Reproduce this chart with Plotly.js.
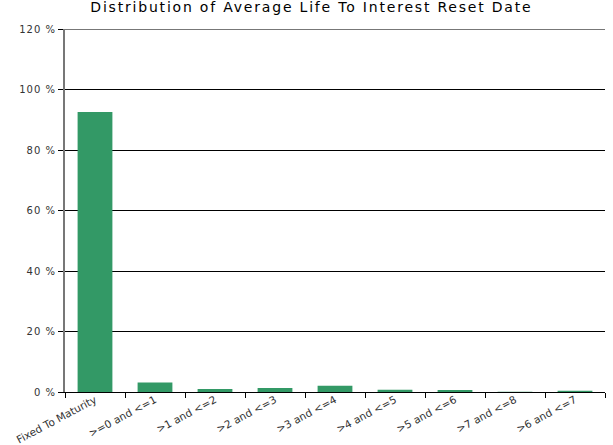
<!DOCTYPE html>
<html>
<head>
<meta charset="utf-8">
<script src="https://cdn.plot.ly/plotly-3.0.1.min.js"></script>
<style>
html,body{margin:0;padding:0;background:#fff;}
#chart{width:613px;height:445px;}
#chart .gtitle{letter-spacing:1.8px;}
#chart .ytick text{letter-spacing:1px;}
</style>
</head>
<body>
<div id="chart"></div>
<script>
const categories = ["Fixed To Maturity", ">=0 and <=1", ">1 and <=2", ">2 and <=3", ">3 and <=4", ">4 and <=5", ">5 and <=6", ">7 and <=8", ">6 and <=7"];
const values = [92.6, 3.1, 1.0, 1.3, 2.1, 0.75, 0.7, 0.1, 0.4];
const yTicks = [0, 20, 40, 60, 80, 100, 120];
const yTickLabels = yTicks.map(v => v + " %");
const titleText = "Distribution of Average Life To Interest Reset Date";

const trace = {
  type: "bar",
  x: categories,
  y: values,
  marker: {color: "#339966"},
  hoverinfo: "x+y"
};

const layout = {
  width: 613,
  height: 445,
  margin: {l: 65, r: 8, t: 29, b: 53},
  paper_bgcolor: "#fff",
  plot_bgcolor: "#fff",
  font: {family: "DejaVu Sans, Verdana, sans-serif", size: 11, color: "#333"},
  title: {text: titleText, font: {size: 14, color: "#000"}, x: 0.508, xanchor: "center", yref: "container", y: 1, yanchor: "top", pad: {t: 2}},
  bargap: 0.42,
  showlegend: false,
  xaxis: {
    type: "category",
    tickangle: -28,
    tickson: "boundaries",
    ticks: "outside",
    ticklen: 5,
    tickcolor: "#000",
    ticklabelstandoff: -3,
    showline: true,
    linecolor: "#000",
    linewidth: 1,
    showgrid: false,
    tickfont: {size: 10.5, color: "#333"},
    automargin: false
  },
  yaxis: {
    range: [0, 120],
    tickmode: "array",
    tickvals: yTicks,
    ticktext: yTickLabels,
    ticks: "outside",
    ticklen: 5,
    tickcolor: "#000",
    showline: true,
    linecolor: "#777",
    linewidth: 2,
    showgrid: true,
    gridcolor: "#000",
    gridwidth: 1,
    zeroline: false,
    tickfont: {size: 10, color: "#333"},
    automargin: false
  },
  shapes: [
    {type: "line", xref: "paper", yref: "y", x0: 0, x1: 1, y0: 120, y1: 120, line: {color: "#777", width: 2}}
  ]
};

Plotly.newPlot("chart", [trace], layout, {displayModeBar: false, staticPlot: true});
</script>
</body>
</html>
